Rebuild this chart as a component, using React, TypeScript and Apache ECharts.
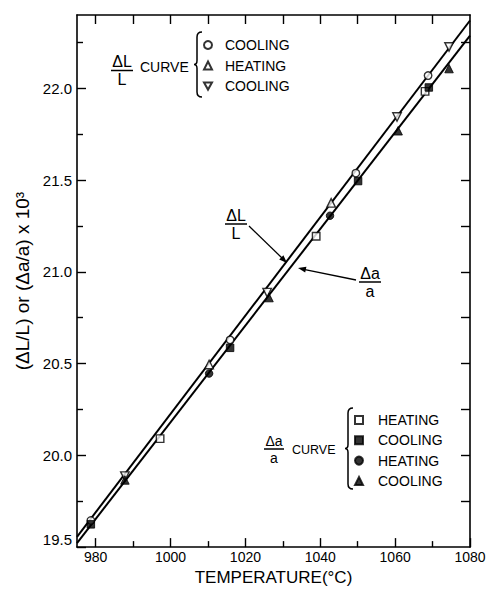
import React, { useEffect, useRef } from "react";
import * as echarts from "echarts";

// ---------- data ----------
const xMin = 975;
const xMax = 1080;
const yMin = 19.5;
const yMax = 22.4;

const xTicksMajor = [980, 1000, 1020, 1040, 1060, 1080];
const xTicksMinor = [990, 1010, 1030, 1050, 1070];
const xTicksTop = [980, 990, 1000, 1010, 1020, 1030, 1040, 1050, 1060, 1070];
const yTicksMajor = [19.5, 20.0, 20.5, 21.0, 21.5, 22.0];
const yTicksMinor = [19.75, 20.25, 20.75, 21.25, 21.75, 22.25];
const yTicksRight = [19.75, 20.0, 20.25, 20.5, 20.75, 21.0, 21.25, 21.5, 21.75, 22.0, 22.25];

// fitted curves (endpoints at x = 975 and 1080)
const curveX = [975, 1080];
const dlCurveY = [19.556, 22.37];
const daCurveY = [19.522, 22.288];

// ΔL/L measurements
const dlCoolingCircle = [[978.7, 19.645], [1015.9, 20.629], [1049.5, 21.538], [1068.8, 22.07]];
const dlHeatingTriangle = [[1010.3, 20.495], [1042.9, 21.376]];
const dlCoolingInvTriangle = [[987.8, 19.887], [1025.8, 20.887], [1060.5, 21.844], [1074.4, 22.226]];

// Δa/a measurements
const daHeatingSquare = [[997.2, 20.091], [1038.9, 21.194], [1068.0, 21.984]];
const daCoolingSquare = [[978.7, 19.624], [1015.9, 20.586], [1050.1, 21.495], [1069.0, 22.005]];
const daHeatingCircle = [[1010.3, 20.446], [1042.6, 21.306]];
const daCoolingTriangle = [[987.8, 19.866], [1026.3, 20.86], [1060.8, 21.769], [1074.4, 22.108]];

const FONT = "Liberation Sans, Arial, sans-serif";
const INV_TRIANGLE = "path://M0,0 L10,0 L5,9 Z";

function bracePath(h: number) {
  const m = h / 2;
  return `M 8 0 Q 3 0 3 5 L 3 ${m - 4} Q 3 ${m} 0 ${m} Q 3 ${m} 3 ${m + 4} L 3 ${h - 5} Q 3 ${h} 8 ${h}`;
}
echarts.graphic.registerShape("braceTop", echarts.graphic.extendPath(bracePath(65), {}));
echarts.graphic.registerShape("braceBottom", echarts.graphic.extendPath(bracePath(81), {}));

const openStyle = { color: "#fff", borderColor: "#000", borderWidth: 1.4 };
const filledStyle = { color: "#000", borderColor: "#000", borderWidth: 1 };

export default function App() {
  const ref = useRef<HTMLDivElement>(null);

  useEffect(() => {
    document.body.style.margin = "0";
    if (!ref.current) return;
    const chart = echarts.init(ref.current, undefined, { renderer: "svg" });

    const scatter = (name: string, data: number[][], symbol: string, size: number, style: any) => ({
      type: "scatter",
      name,
      data,
      symbol,
      symbolSize: size,
      itemStyle: style,
      z: 4,
      xAxisIndex: 0,
      yAxisIndex: 0,
    });

    const line = (name: string, ys: number[]) => ({
      type: "line",
      name,
      data: curveX.map((x, i) => [x, ys[i]]),
      symbol: "none",
      lineStyle: { color: "#000", width: 2 },
      z: 2,
      xAxisIndex: 0,
      yAxisIndex: 0,
    });

    const dlNames = ["ΔL/L COOLING ○", "ΔL/L HEATING △", "ΔL/L COOLING ▽"];
    const daNames = ["Δa/a HEATING □", "Δa/a COOLING ■", "Δa/a HEATING ●", "Δa/a COOLING ▲"];

    const legendText = (pad: number) => ({
      fontSize: 14,
      fontFamily: FONT,
      color: "#000",
      lineHeight: 14,
      padding: [0, 0, 0, pad],
    });

    const baseX = { type: "value", min: xMin, max: xMax, splitLine: { show: false } };
    const baseY = { type: "value", min: yMin, max: yMax, splitLine: { show: false } };
    const axisLine = { show: true, lineStyle: { color: "#000", width: 1.6 } };

    const option: any = {
      animation: false,
      backgroundColor: "#fff",
      grid: { left: 77, right: 20, top: 15, bottom: 37 },
      xAxis: [
        {
          ...baseX,
          position: "bottom",
          axisLine,
          axisTick: { show: true, inside: true, length: 9, lineStyle: { color: "#000", width: 1.4 }, customValues: xTicksMajor },
          axisLabel: {
            customValues: xTicksMajor,
            formatter: (v: number) => String(v),
            fontSize: 14,
            fontFamily: FONT,
            color: "#000",
            margin: 3,
          },
          name: "TEMPERATURE(°C)",
          nameLocation: "middle",
          nameGap: 13,
          nameTextStyle: { fontSize: 17, fontFamily: FONT, color: "#000" },
        },
        {
          ...baseX,
          position: "bottom",
          axisLine: { show: false },
          axisTick: { show: true, inside: true, length: 6, lineStyle: { color: "#000", width: 1.4 }, customValues: xTicksMinor },
          axisLabel: { show: false },
        },
        {
          ...baseX,
          position: "top",
          axisLine,
          axisTick: { show: true, inside: true, length: 9, lineStyle: { color: "#000", width: 1.4 }, customValues: xTicksTop },
          axisLabel: { show: false },
        },
      ],
      yAxis: [
        {
          ...baseY,
          position: "left",
          axisLine,
          axisTick: { show: true, inside: true, length: 9, lineStyle: { color: "#000", width: 1.4 }, customValues: yTicksMajor },
          axisLabel: {
            customValues: yTicksMajor,
            formatter: (v: number) => v.toFixed(1),
            fontSize: 15,
            fontFamily: FONT,
            color: "#000",
            margin: 5,
            verticalAlignMinLabel: "bottom",
          },
          name: "(ΔL/L) or (Δa/a) x 10³",
          nameLocation: "middle",
          nameGap: 40,
          nameTextStyle: { fontSize: 19, fontFamily: FONT, color: "#000" },
        },
        {
          ...baseY,
          position: "left",
          axisLine: { show: false },
          axisTick: { show: true, inside: true, length: 6, lineStyle: { color: "#000", width: 1.4 }, customValues: yTicksMinor },
          axisLabel: { show: false },
        },
        {
          ...baseY,
          position: "right",
          axisLine,
          axisTick: { show: true, inside: true, length: 9, lineStyle: { color: "#000", width: 1.4 }, customValues: yTicksRight },
          axisLabel: { show: false },
        },
      ],
      legend: [
        {
          orient: "vertical",
          left: 203,
          top: 38,
          padding: 0,
          itemWidth: 8,
          itemHeight: 8,
          itemGap: 6.5,
          selectedMode: false,
          data: [
            { name: dlNames[0], icon: "circle" },
            { name: dlNames[1], icon: "triangle" },
            { name: dlNames[2], icon: INV_TRIANGLE },
          ],
          formatter: (n: string) => n.split(" ")[1],
          textStyle: legendText(8),
        },
        {
          orient: "vertical",
          left: 354,
          top: 413,
          padding: 0,
          itemWidth: 8,
          itemHeight: 8,
          itemGap: 6.3,
          selectedMode: false,
          data: daNames,
          formatter: (n: string) => n.split(" ")[1],
          textStyle: legendText(10),
        },
      ],
      series: [
        line("ΔL/L", dlCurveY),
        line("Δa/a", daCurveY),
        scatter(dlNames[0], dlCoolingCircle, "circle", 7.5, openStyle),
        scatter(dlNames[1], dlHeatingTriangle, "triangle", 8.5, openStyle),
        scatter(dlNames[2], dlCoolingInvTriangle, INV_TRIANGLE, 8.5, openStyle),
        scatter(daNames[0], daHeatingSquare, "rect", 7.5, openStyle),
        scatter(daNames[1], daCoolingSquare, "rect", 7.5, filledStyle),
        scatter(daNames[2], daHeatingCircle, "circle", 7.5, filledStyle),
        scatter(daNames[3], daCoolingTriangle, "triangle", 8.5, filledStyle),
      ],
      graphic: [
        // top legend fraction ΔL / L  CURVE
        { type: "text", x: 122, y: 61, style: { text: "ΔL", fontSize: 16, fontFamily: FONT, fill: "#000", align: "center", verticalAlign: "middle" } },
        { type: "line", shape: { x1: 111, y1: 70.5, x2: 133, y2: 70.5 }, style: { stroke: "#000", lineWidth: 1.5 } },
        { type: "text", x: 122, y: 79, style: { text: "L", fontSize: 16, fontFamily: FONT, fill: "#000", align: "center", verticalAlign: "middle" } },
        { type: "text", x: 140, y: 67, style: { text: "CURVE", fontSize: 14, fontFamily: FONT, fill: "#000", align: "left", verticalAlign: "middle" } },
        { type: "braceTop", x: 194, y: 32, style: { stroke: "#000", lineWidth: 1.5, fill: "none" } },

        // bottom legend fraction Δa / a  CURVE
        { type: "text", x: 274, y: 441, style: { text: "Δa", fontSize: 14, fontFamily: FONT, fill: "#000", align: "center", verticalAlign: "middle" } },
        { type: "line", shape: { x1: 264, y1: 449, x2: 284, y2: 449 }, style: { stroke: "#000", lineWidth: 1.5 } },
        { type: "text", x: 274, y: 458, style: { text: "a", fontSize: 14, fontFamily: FONT, fill: "#000", align: "center", verticalAlign: "middle" } },
        { type: "text", x: 292, y: 450, style: { text: "CURVE", fontSize: 12.5, fontFamily: FONT, fill: "#000", align: "left", verticalAlign: "middle" } },
        { type: "braceBottom", x: 345, y: 408, style: { stroke: "#000", lineWidth: 1.5, fill: "none" } },

        // ΔL/L annotation with arrow
        { type: "text", x: 236, y: 215.5, style: { text: "ΔL", fontSize: 16, fontFamily: FONT, fill: "#000", align: "center", verticalAlign: "middle" } },
        { type: "line", shape: { x1: 225, y1: 224, x2: 247, y2: 224 }, style: { stroke: "#000", lineWidth: 1.5 } },
        { type: "text", x: 236, y: 233, style: { text: "L", fontSize: 16, fontFamily: FONT, fill: "#000", align: "center", verticalAlign: "middle" } },
        { type: "line", shape: { x1: 249, y1: 226, x2: 282, y2: 258 }, style: { stroke: "#000", lineWidth: 1.3 } },
        { type: "polygon", shape: { points: [[287, 263], [279.2, 259.4], [283.4, 255.2]] }, style: { fill: "#000" } },

        // Δa/a annotation with arrow
        { type: "text", x: 370, y: 273.5, style: { text: "Δa", fontSize: 16, fontFamily: FONT, fill: "#000", align: "center", verticalAlign: "middle" } },
        { type: "line", shape: { x1: 359, y1: 282, x2: 381, y2: 282 }, style: { stroke: "#000", lineWidth: 1.5 } },
        { type: "text", x: 370, y: 291, style: { text: "a", fontSize: 16, fontFamily: FONT, fill: "#000", align: "center", verticalAlign: "middle" } },
        { type: "line", shape: { x1: 356, y1: 280, x2: 305, y2: 269.6 }, style: { stroke: "#000", lineWidth: 1.3 } },
        { type: "polygon", shape: { points: [[298, 268], [306.4, 266.7], [305.2, 272.5]] }, style: { fill: "#000" } },
      ],
    };

    chart.setOption(option);
    return () => chart.dispose();
  }, []);

  return <div ref={ref} style={{ width: 490, height: 591 }} />;
}
